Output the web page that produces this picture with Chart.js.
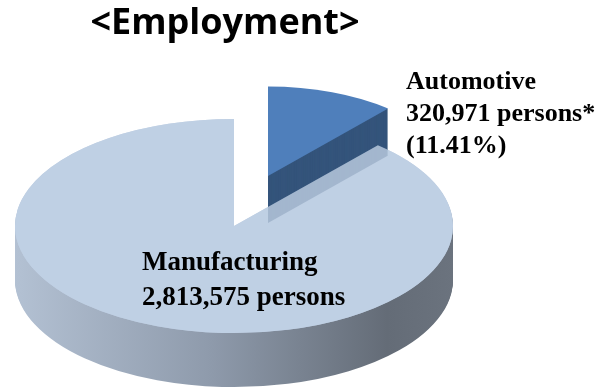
<!DOCTYPE html>
<html>
<head>
<meta charset="utf-8">
<script src="https://cdn.jsdelivr.net/npm/chart.js@4.4.1/dist/chart.umd.min.js"></script>
<style>
  html, body { margin: 0; padding: 0; background: #fff; }
</style>
</head>
<body>
<canvas id="graficoEmprego" width="596" height="388"></canvas>
<script>
// Employment, persons
const sectors = ['Automotive', 'Manufacturing'];
const persons = [320971, 2813575];
// automotive jobs are counted inside manufacturing, so the pie cuts the automotive wedge out of the total
const slices = [persons[0], persons[1] - persons[0]];
const autoShare = persons[0] / persons[1] * 100;

const topColors = ['#4f7fbb', '#bfcfe3'];
const autoSide = '#34547b';

// 3D look: squashed ellipse + extruded rim
const TILT = 0.489;
const mfgPlace = { cx: 234, cy: 226, rx: 219, depth: 54 };
const autoPlace = { dx: 34, dy: -50, scale: 0.835, depth: 47 };

const fmt = n => String(n).replace(/\B(?=(\d{3})+(?!\d))/g, ',');

const pie3d = {
  id: 'pie3d',
  beforeDatasetsDraw(chart) {
    const ctx = chart.ctx;
    const [autoArc, mfgArc] = chart.getDatasetMeta(0).data;

    const drawFace = (arc, cx, cy, rx, fill) => {
      const r = arc.outerRadius;
      ctx.save();
      ctx.translate(cx, cy);
      ctx.scale(rx / r, rx * TILT / r);
      ctx.translate(-arc.x, -arc.y);
      const own = arc.options;
      if (fill) arc.options = Object.assign({}, own, { backgroundColor: fill });
      arc.draw(ctx);
      arc.options = own;
      ctx.restore();
    };

    // rim gradient, in the arc's own (untransformed) coordinates
    const r = mfgArc.outerRadius;
    const rim = ctx.createLinearGradient(mfgArc.x - r, 0, mfgArc.x + r, 0);
    rim.addColorStop(0, '#b3c1d3');
    rim.addColorStop(0.45, '#8e9aab');
    rim.addColorStop(0.85, '#646c77');
    rim.addColorStop(1, '#6b737e');

    // manufacturing body
    for (let d = mfgPlace.depth; d > 0; d--) {
      drawFace(mfgArc, mfgPlace.cx, mfgPlace.cy + d, mfgPlace.rx, rim);
    }
    drawFace(mfgArc, mfgPlace.cx, mfgPlace.cy, mfgPlace.rx);

    // exploded automotive wedge
    const ax = mfgPlace.cx + autoPlace.dx;
    const ay = mfgPlace.cy + autoPlace.dy;
    const arx = mfgPlace.rx * autoPlace.scale;
    for (let d = autoPlace.depth; d > 0; d--) {
      drawFace(autoArc, ax, ay + d, arx, autoSide);
    }
    drawFace(autoArc, ax, ay, arx);

    // manufacturing top again, slightly see-through where it overlaps the wedge
    drawFace(mfgArc, mfgPlace.cx, mfgPlace.cy, mfgPlace.rx, 'rgba(191, 207, 227, 0.8)');
    return false;
  }
};

const sliceLabels = {
  id: 'sliceLabels',
  afterDraw(chart) {
    const ctx = chart.ctx;
    ctx.save();
    ctx.fillStyle = '#000';
    ctx.textAlign = 'left';
    ctx.textBaseline = 'alphabetic';
    ctx.font = 'bold 26px "Liberation Serif"';
    ctx.fillText(sectors[0], 406, 89);
    ctx.fillText(fmt(persons[0]) + ' persons*', 406, 121);
    ctx.fillText('(' + autoShare.toFixed(2) + '%)', 406, 153);
    ctx.font = 'bold 27px "Liberation Serif"';
    ctx.fillText(sectors[1], 142, 270);
    ctx.fillText(fmt(persons[1]) + ' persons', 142, 305);
    ctx.restore();
  }
};

const ctxPie = document.getElementById('graficoEmprego').getContext('2d');
const graficoEmprego = new Chart(ctxPie, {
  type: 'pie',
  data: {
    labels: sectors,
    datasets: [{
      data: slices,
      backgroundColor: topColors,
      borderWidth: 0
    }]
  },
  options: {
    responsive: false,
    animation: false,
    events: [],
    layout: { padding: { left: 0, right: 146, top: 0, bottom: 0 } },
    plugins: {
      legend: { display: false },
      tooltip: { enabled: false },
      title: {
        display: true,
        text: '<Employment>',
        color: '#000',
        font: { family: 'Open Sans', size: 36, weight: 'bold' },
        padding: { top: 2, bottom: 0 }
      }
    }
  },
  plugins: [pie3d, sliceLabels]
});
</script>
</body>
</html>
